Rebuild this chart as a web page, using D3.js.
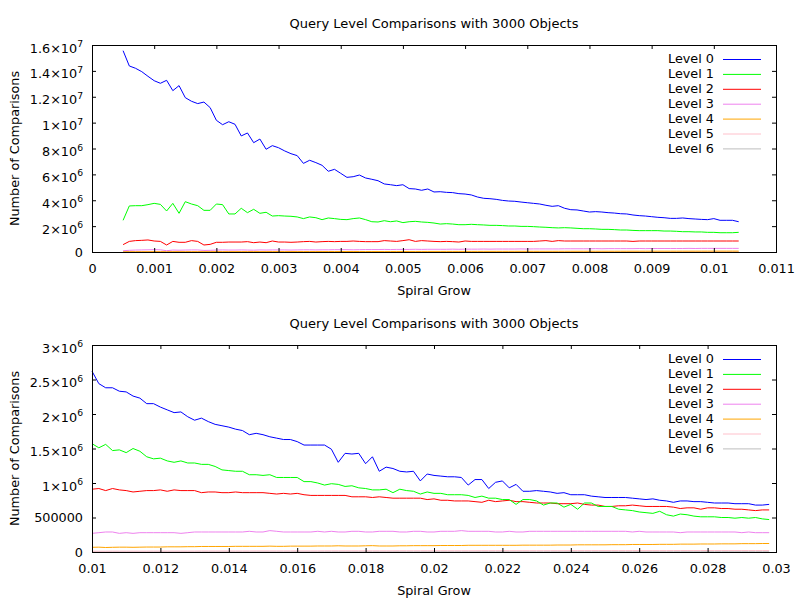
<!DOCTYPE html>
<html>
<head>
<meta charset="utf-8">
<script src="https://cdn.jsdelivr.net/npm/d3@7"></script>
<style>
  body { margin: 0; background: #fff; }
  text { font-family: "DejaVu Sans", sans-serif; font-size: 12.8px; fill: #000; }
</style>
</head>
<body>
<div id="chart"></div>
<script>
// series values are in millions of comparisons
const levelNames = ["Level 0", "Level 1", "Level 2", "Level 3", "Level 4", "Level 5", "Level 6"];
const levelColors = ["#0000ff", "#00ff00", "#ff0000", "#ee82ee", "#ffa500", "#ffc0cb", "#bebebe"];

const chartTitle = "Query Level Comparisons with 3000 Objects";
const xTitle = "Spiral Grow";
const yTitle = "Number of Comparisons";

// ---- top panel ----
const topX = [0.0005,0.0006,0.0007,0.0008,0.0009,
  0.0010,0.0011,0.0012,0.0013,0.0014,0.0015,0.0016,0.0017,0.0018,0.0019,
  0.0020,0.0021,0.0022,0.0023,0.0024,0.0025,0.0026,0.0027,0.0028,0.0029,
  0.0030,0.0031,0.0032,0.0033,0.0034,0.0035,0.0036,0.0037,0.0038,0.0039,
  0.0040,0.0041,0.0042,0.0043,0.0044,0.0045,0.0046,0.0047,0.0048,0.0049,
  0.0050,0.0051,0.0052,0.0053,0.0054,0.0055,0.0056,0.0057,0.0058,0.0059,
  0.0060,0.0061,0.0062,0.0063,0.0064,0.0065,0.0066,0.0067,0.0068,0.0069,
  0.0070,0.0071,0.0072,0.0073,0.0074,0.0075,0.0076,0.0077,0.0078,0.0079,
  0.0080,0.0081,0.0082,0.0083,0.0084,0.0085,0.0086,0.0087,0.0088,0.0089,
  0.0090,0.0091,0.0092,0.0093,0.0094,0.0095,0.0096,0.0097,0.0098,0.0099,
  0.0100,0.0101,0.0102,0.0103,0.0104];

const topL0 = [15.56,14.38,14.20,13.94,13.58,13.24,13.04,13.27,12.47,12.86,
  11.93,11.65,11.47,11.59,11.16,10.18,9.84,10.07,9.87,8.97,
  9.20,8.45,8.73,7.94,8.22,8.06,7.81,7.60,7.45,6.85,
  7.09,6.91,6.70,6.24,6.39,6.08,5.77,5.82,5.95,5.72,
  5.62,5.51,5.26,5.20,5.13,5.20,4.90,4.87,4.77,4.87,
  4.64,4.66,4.61,4.59,4.51,4.48,4.41,4.25,4.15,4.12,
  4.07,3.99,3.94,3.92,3.86,3.81,3.76,3.71,3.61,3.53,
  3.58,3.38,3.27,3.25,3.17,3.09,3.12,3.09,3.04,3.01,
  2.96,2.94,2.86,2.81,2.78,2.73,2.68,2.65,2.60,2.60,
  2.63,2.58,2.55,2.52,2.50,2.58,2.45,2.45,2.45,2.34];
const topL1 = [2.45,3.56,3.58,3.58,3.66,3.76,3.68,3.17,3.76,2.99,
  3.89,3.71,3.58,3.22,3.22,3.71,3.66,2.94,2.94,3.38,
  3.04,3.30,2.99,3.07,2.78,2.81,2.78,2.76,2.71,2.58,
  2.71,2.65,2.50,2.63,2.58,2.52,2.50,2.58,2.63,2.50,
  2.34,2.32,2.42,2.34,2.40,2.27,2.34,2.37,2.32,2.29,
  2.24,2.16,2.19,2.16,2.11,2.11,2.14,2.11,2.09,2.06,
  2.06,2.04,2.01,2.01,1.98,1.98,1.96,1.93,1.91,1.88,
  1.86,1.88,1.86,1.83,1.80,1.80,1.78,1.75,1.75,1.73,
  1.70,1.70,1.67,1.65,1.65,1.65,1.65,1.62,1.62,1.60,
  1.57,1.57,1.55,1.55,1.52,1.52,1.49,1.49,1.49,1.52];
const topL2 = [0.57,0.82,0.88,0.90,0.93,0.85,0.82,0.54,0.82,0.75,
  0.75,0.88,0.82,0.54,0.59,0.75,0.75,0.77,0.77,0.77,
  0.80,0.72,0.77,0.72,0.85,0.77,0.77,0.75,0.77,0.80,
  0.82,0.77,0.80,0.82,0.80,0.82,0.82,0.85,0.82,0.80,
  0.80,0.80,0.88,0.85,0.82,0.88,0.95,0.82,0.88,0.85,
  0.82,0.80,0.82,0.80,0.77,0.85,0.82,0.82,0.82,0.82,
  0.82,0.82,0.82,0.82,0.82,0.82,0.82,0.85,0.88,0.82,
  0.88,0.85,0.85,0.85,0.85,0.85,0.85,0.85,0.85,0.85,
  0.85,0.85,0.82,0.85,0.85,0.85,0.85,0.85,0.85,0.85,
  0.85,0.85,0.85,0.85,0.85,0.85,0.85,0.85,0.85,0.85];
const topL3 = [0.10,0.13,0.15,0.16,0.17,0.18,0.17,0.10,0.15,0.14,
  0.15,0.16,0.16,0.12,0.13,0.15,0.16,0.15,0.15,0.16,
  0.15,0.14,0.16,0.15,0.16,0.16,0.16,0.15,0.16,0.17,
  0.17,0.16,0.17,0.17,0.18,0.18,0.18,0.17,0.18,0.19,
  0.19,0.19,0.20,0.19,0.20,0.20,0.20,0.21,0.20,0.21,
  0.21,0.21,0.21,0.22,0.21,0.22,0.22,0.22,0.23,0.22,
  0.23,0.23,0.23,0.23,0.24,0.23,0.24,0.24,0.24,0.24,
  0.24,0.25,0.25,0.25,0.25,0.25,0.26,0.25,0.26,0.26,
  0.26,0.26,0.26,0.27,0.26,0.27,0.27,0.27,0.27,0.27,
  0.27,0.28,0.27,0.28,0.28,0.28,0.28,0.28,0.28,0.28];
const topL4 = [0.020,0.022,0.022,0.024,0.024,0.025,0.025,0.022,0.025,0.026,
  0.026,0.027,0.027,0.025,0.026,0.028,0.028,0.029,0.029,0.030,
  0.030,0.030,0.031,0.031,0.032,0.032,0.033,0.033,0.034,0.034,
  0.035,0.035,0.036,0.036,0.037,0.037,0.038,0.038,0.039,0.039,
  0.040,0.040,0.041,0.041,0.042,0.042,0.043,0.043,0.044,0.044,
  0.045,0.045,0.046,0.046,0.047,0.047,0.048,0.048,0.049,0.049,
  0.050,0.050,0.051,0.051,0.052,0.052,0.053,0.053,0.054,0.054,
  0.055,0.055,0.056,0.056,0.057,0.057,0.058,0.058,0.059,0.059,
  0.060,0.060,0.061,0.061,0.062,0.062,0.063,0.063,0.064,0.064,
  0.065,0.065,0.066,0.066,0.067,0.067,0.068,0.068,0.069,0.070];
const topL5 = [0.005,0.006,0.006,0.006,0.007,0.007,0.007,0.006,0.007,0.007,
  0.007,0.008,0.008,0.007,0.007,0.008,0.008,0.008,0.008,0.009,
  0.009,0.009,0.009,0.009,0.010,0.010,0.010,0.010,0.010,0.010,
  0.011,0.011,0.011,0.011,0.011,0.011,0.012,0.012,0.012,0.012,
  0.012,0.012,0.013,0.013,0.013,0.013,0.013,0.013,0.014,0.014,
  0.014,0.014,0.014,0.014,0.015,0.015,0.015,0.015,0.015,0.015,
  0.015,0.016,0.016,0.016,0.016,0.016,0.016,0.016,0.017,0.017,
  0.017,0.017,0.017,0.017,0.017,0.018,0.018,0.018,0.018,0.018,
  0.018,0.018,0.018,0.019,0.019,0.019,0.019,0.019,0.019,0.019,
  0.019,0.020,0.020,0.020,0.020,0.020,0.020,0.020,0.020,0.020];
const topL6 = [0.002,0.002,0.002,0.002,0.002,0.002,0.002,0.002,0.002,0.002,
  0.002,0.002,0.002,0.002,0.002,0.002,0.002,0.002,0.002,0.002,
  0.002,0.002,0.002,0.002,0.002,0.002,0.002,0.002,0.003,0.003,
  0.003,0.003,0.003,0.003,0.003,0.003,0.003,0.003,0.003,0.003,
  0.003,0.003,0.003,0.003,0.003,0.003,0.003,0.003,0.003,0.003,
  0.003,0.003,0.003,0.003,0.003,0.003,0.003,0.003,0.003,0.003,
  0.003,0.003,0.003,0.003,0.003,0.003,0.004,0.004,0.004,0.004,
  0.004,0.004,0.004,0.004,0.004,0.004,0.004,0.004,0.004,0.004,
  0.004,0.004,0.004,0.004,0.004,0.004,0.004,0.004,0.004,0.004,
  0.004,0.004,0.004,0.004,0.004,0.004,0.004,0.004,0.004,0.004];

const topXTicks = [0,0.001,0.002,0.003,0.004,0.005,0.006,0.007,0.008,0.009,0.01,0.011];
const topXTickLabels = ["0","0.001","0.002","0.003","0.004","0.005","0.006","0.007","0.008","0.009","0.01","0.011"];
const topYTicks = [0,2e6,4e6,6e6,8e6,1e7,1.2e7,1.4e7,1.6e7];
const topYTickMant = ["0","2","4","6","8","1","1.2","1.4","1.6"];
const topYTickExp = ["","6","6","6","6","7","7","7","7"];

// ---- bottom panel ----
const botX = [0.0100,0.0102,0.0104,0.0106,0.0108,0.0110,0.0112,0.0114,0.0116,0.0118,
  0.0120,0.0122,0.0124,0.0126,0.0128,0.0130,0.0132,0.0134,0.0136,0.0138,
  0.0140,0.0142,0.0144,0.0146,0.0148,0.0150,0.0152,0.0154,0.0156,0.0158,
  0.0160,0.0162,0.0164,0.0166,0.0168,0.0170,0.0172,0.0174,0.0176,0.0178,
  0.0180,0.0182,0.0184,0.0186,0.0188,0.0190,0.0192,0.0194,0.0196,0.0198,
  0.0200,0.0202,0.0204,0.0206,0.0208,0.0210,0.0212,0.0214,0.0216,0.0218,
  0.0220,0.0222,0.0224,0.0226,0.0228,0.0230,0.0232,0.0234,0.0236,0.0238,
  0.0240,0.0242,0.0244,0.0246,0.0248,0.0250,0.0252,0.0254,0.0256,0.0258,
  0.0260,0.0262,0.0264,0.0266,0.0268,0.0270,0.0272,0.0274,0.0276,0.0278,
  0.0280,0.0282,0.0284,0.0286,0.0288,0.0290,0.0292,0.0294,0.0296,0.0298];

const botL0 = [2.62,2.44,2.38,2.38,2.33,2.32,2.26,2.23,2.15,2.15,
  2.10,2.06,2.02,2.03,1.96,1.91,1.94,1.89,1.85,1.83,
  1.81,1.78,1.76,1.70,1.72,1.70,1.67,1.65,1.63,1.63,
  1.60,1.55,1.55,1.55,1.55,1.49,1.30,1.43,1.42,1.43,
  1.28,1.38,1.17,1.23,1.21,1.17,1.16,1.17,1.03,1.13,
  1.11,1.10,1.09,1.09,1.08,0.97,1.05,1.05,0.92,1.01,
  1.03,0.93,0.98,0.88,0.88,0.89,0.88,0.87,0.85,0.86,
  0.83,0.83,0.83,0.81,0.80,0.79,0.79,0.79,0.79,0.78,
  0.77,0.76,0.77,0.75,0.74,0.72,0.74,0.74,0.73,0.73,
  0.72,0.71,0.71,0.71,0.70,0.70,0.70,0.68,0.68,0.69];
const botL1 = [1.57,1.51,1.56,1.47,1.48,1.44,1.50,1.46,1.38,1.35,
  1.36,1.32,1.30,1.32,1.29,1.29,1.27,1.27,1.24,1.19,
  1.18,1.17,1.17,1.12,1.12,1.11,1.12,1.08,1.08,1.08,
  1.08,1.02,1.02,1.00,0.97,0.99,0.98,0.95,0.96,0.93,
  0.92,0.90,0.90,0.91,0.86,0.91,0.89,0.88,0.84,0.87,
  0.85,0.85,0.83,0.83,0.83,0.82,0.79,0.81,0.78,0.78,
  0.76,0.76,0.69,0.76,0.76,0.74,0.68,0.71,0.71,0.65,
  0.69,0.62,0.71,0.71,0.66,0.66,0.66,0.62,0.61,0.60,
  0.58,0.57,0.56,0.59,0.54,0.52,0.55,0.54,0.52,0.51,
  0.51,0.51,0.50,0.50,0.49,0.50,0.49,0.50,0.48,0.47];
const botL2 = [0.91,0.92,0.89,0.92,0.90,0.89,0.87,0.88,0.89,0.89,
  0.90,0.88,0.90,0.89,0.89,0.89,0.86,0.87,0.87,0.86,
  0.86,0.87,0.86,0.86,0.86,0.86,0.85,0.84,0.85,0.84,
  0.85,0.83,0.82,0.82,0.82,0.82,0.82,0.82,0.80,0.80,
  0.80,0.79,0.80,0.79,0.78,0.78,0.78,0.78,0.78,0.76,
  0.77,0.75,0.75,0.74,0.74,0.74,0.73,0.72,0.75,0.73,
  0.74,0.75,0.73,0.73,0.72,0.71,0.71,0.71,0.70,0.70,
  0.70,0.71,0.69,0.68,0.68,0.66,0.66,0.67,0.67,0.68,
  0.67,0.66,0.66,0.66,0.66,0.65,0.63,0.64,0.64,0.62,
  0.64,0.64,0.63,0.63,0.62,0.62,0.61,0.60,0.61,0.61];
const botL3 = [0.27,0.28,0.29,0.29,0.27,0.28,0.27,0.28,0.28,0.28,
  0.28,0.28,0.28,0.27,0.28,0.29,0.29,0.29,0.29,0.29,
  0.29,0.29,0.29,0.30,0.29,0.29,0.31,0.30,0.29,0.29,
  0.29,0.29,0.29,0.30,0.29,0.30,0.29,0.29,0.30,0.30,
  0.29,0.29,0.30,0.30,0.30,0.29,0.29,0.30,0.30,0.29,
  0.29,0.30,0.30,0.30,0.31,0.30,0.30,0.30,0.30,0.29,
  0.29,0.30,0.29,0.29,0.30,0.30,0.30,0.30,0.30,0.30,
  0.30,0.30,0.30,0.30,0.30,0.30,0.30,0.30,0.30,0.29,
  0.30,0.29,0.29,0.29,0.29,0.29,0.28,0.29,0.29,0.29,
  0.29,0.29,0.29,0.29,0.29,0.28,0.29,0.28,0.28,0.28];
const botL4 = [0.068,0.070,0.065,0.068,0.070,0.070,0.068,0.070,0.072,0.072,
  0.072,0.075,0.075,0.075,0.077,0.077,0.080,0.080,0.080,0.080,
  0.080,0.082,0.082,0.082,0.082,0.082,0.085,0.082,0.082,0.085,
  0.085,0.085,0.085,0.087,0.087,0.087,0.090,0.087,0.087,0.087,
  0.090,0.092,0.087,0.087,0.087,0.090,0.090,0.092,0.092,0.092,
  0.092,0.094,0.094,0.094,0.094,0.097,0.097,0.097,0.097,0.097,
  0.097,0.097,0.097,0.099,0.099,0.099,0.099,0.099,0.101,0.101,
  0.101,0.104,0.104,0.104,0.104,0.104,0.106,0.106,0.106,0.109,
  0.109,0.109,0.109,0.111,0.111,0.111,0.114,0.114,0.114,0.116,
  0.116,0.116,0.118,0.118,0.118,0.121,0.121,0.121,0.123,0.123];
const botL5 = [0.012,0.012,0.012,0.013,0.013,0.013,0.013,0.013,0.013,0.014,
  0.014,0.014,0.014,0.014,0.014,0.014,0.015,0.015,0.015,0.015,
  0.015,0.015,0.015,0.015,0.016,0.016,0.016,0.016,0.016,0.016,
  0.016,0.016,0.016,0.016,0.017,0.017,0.017,0.017,0.017,0.017,
  0.017,0.017,0.017,0.017,0.017,0.018,0.018,0.018,0.018,0.018,
  0.018,0.018,0.018,0.018,0.018,0.018,0.018,0.019,0.019,0.019,
  0.019,0.019,0.019,0.019,0.019,0.019,0.019,0.019,0.019,0.019,
  0.020,0.020,0.020,0.020,0.020,0.020,0.020,0.020,0.020,0.020,
  0.020,0.020,0.020,0.020,0.020,0.021,0.021,0.021,0.021,0.021,
  0.021,0.021,0.021,0.021,0.021,0.021,0.021,0.021,0.021,0.021];
const botL6 = [0.004,0.004,0.004,0.004,0.004,0.004,0.004,0.004,0.004,0.004,
  0.004,0.004,0.004,0.004,0.004,0.004,0.004,0.004,0.004,0.004,
  0.004,0.004,0.004,0.004,0.004,0.004,0.004,0.004,0.004,0.004,
  0.005,0.005,0.005,0.005,0.005,0.005,0.005,0.005,0.005,0.005,
  0.005,0.005,0.005,0.005,0.005,0.005,0.005,0.005,0.005,0.005,
  0.005,0.005,0.005,0.005,0.005,0.005,0.005,0.005,0.005,0.005,
  0.005,0.005,0.005,0.005,0.005,0.005,0.005,0.005,0.005,0.005,
  0.005,0.005,0.005,0.005,0.005,0.005,0.005,0.005,0.005,0.005,
  0.005,0.005,0.005,0.005,0.005,0.005,0.005,0.005,0.005,0.005,
  0.005,0.005,0.005,0.005,0.005,0.005,0.005,0.005,0.005,0.005];

const botXTicks = [0.01,0.012,0.014,0.016,0.018,0.02,0.022,0.024,0.026,0.028,0.03];
const botXTickLabels = ["0.01","0.012","0.014","0.016","0.018","0.02","0.022","0.024","0.026","0.028","0.03"];
const botYTicks = [0,5e5,1e6,1.5e6,2e6,2.5e6,3e6];
const botYTickMant = ["0","500000","1","1.5","2","2.5","3"];
const botYTickExp = ["","","6","6","6","6","6"];


var width = 800, height = 600;
const svg = d3.select("#chart")
  .append("svg")
  .attr("width", width)
  .attr("height", height);

const drawPanel = (cfg) => {
  const left = 92, right = 776;
  const top = cfg.top, bottom = cfg.top + 207;
  const tick = 4;

  const x = d3.scaleLinear().domain(cfg.xDomain).range([left, right]);
  const y = d3.scaleLinear().domain(cfg.yDomain).range([bottom, top]);

  const g = svg.append("g");

  // the lines go first so the frame sits above them
  const line = d3.line()
    .x((d, i) => x(cfg.xs[i]))
    .y(d => y(d * 1e6));

  const plot = g.append("g");
  // draw the higher levels first so level 0 ends up on top
  cfg.series.slice().reverse().forEach((s, k) => {
    const idx = cfg.series.length - 1 - k;
    plot.append("path")
      .datum(s)
      .attr("fill", "none")
      .attr("stroke", levelColors[idx])
      .attr("stroke-width", 1)
      .attr("d", line);
  });

  // bottom axis with labels
  const xAxis = d3.axisBottom(x)
    .tickValues(cfg.xTicks)
    .tickFormat((d, i) => cfg.xTickLabels[i])
    .tickSizeInner(-tick).tickSizeOuter(0).tickPadding(12);
  const xg = g.append("g").attr("transform", "translate(0," + bottom + ")").call(xAxis);

  const xTop = d3.axisTop(x).tickValues(cfg.xTicks).tickFormat("")
    .tickSizeInner(-tick).tickSizeOuter(0);
  const xtg = g.append("g").attr("transform", "translate(0," + top + ")").call(xTop);

  const yAxis = d3.axisLeft(y)
    .tickValues(cfg.yTicks)
    .tickFormat((d, i) => cfg.yMant[i])
    .tickSizeInner(-tick).tickSizeOuter(0).tickPadding(9);
  const yg = g.append("g").attr("transform", "translate(" + left + ",0)").call(yAxis);

  const yRight = d3.axisRight(y).tickValues(cfg.yTicks).tickFormat("")
    .tickSizeInner(-tick).tickSizeOuter(0);
  const yrg = g.append("g").attr("transform", "translate(" + right + ",0)").call(yRight);

  [xg, xtg, yg, yrg].forEach(a => {
    a.attr("font-family", null).attr("font-size", null);
    a.select(".domain").remove();
    a.selectAll(".tick line").attr("stroke", "#000");
    a.selectAll(".tick text").attr("fill", "#000");
  });

  // y labels: mantissa x 10 with a raised exponent
  yg.selectAll(".tick text").each(function (d, i) {
    const t = d3.select(this);
    const exp = cfg.yExp[i];
    if (exp === "") return;
    t.text(null).attr("y", 3);
    t.append("tspan").text(cfg.yMant[i] + "\u00d710");
    t.append("tspan").attr("dy", -5.5).style("font-size", "9.2px").text(exp);
  });

  g.append("rect")
    .attr("x", left + 0.5).attr("y", top + 0.5)
    .attr("width", right - left).attr("height", bottom - top)
    .attr("fill", "none").attr("stroke", "#000").attr("stroke-width", 1);

  g.append("text")
    .attr("x", (left + right) / 2).attr("y", top - 17)
    .attr("text-anchor", "middle")
    .style("font-size", "13px")
    .text(chartTitle);

  g.append("text")
    .attr("x", (left + right) / 2).attr("y", bottom + 43)
    .attr("text-anchor", "middle")
    .text(xTitle);

  g.append("text")
    .attr("transform", "translate(19," + ((top + bottom) / 2) + ") rotate(-90)")
    .attr("text-anchor", "middle")
    .text(yTitle);

  // key in the top right corner
  const key = g.append("g");
  levelNames.forEach((name, i) => {
    const ky = top + 14 + i * 14.9;
    key.append("text")
      .attr("x", 714).attr("y", ky)
      .attr("dy", "0.35em")
      .attr("text-anchor", "end")
      .text(name);
    key.append("line")
      .attr("x1", 723).attr("x2", 761)
      .attr("y1", ky + 0.5).attr("y2", ky + 0.5)
      .attr("stroke", levelColors[i]).attr("stroke-width", 1);
  });
};

drawPanel({
  top: 45,
  xs: topX,
  series: [topL0, topL1, topL2, topL3, topL4, topL5, topL6],
  xDomain: [0, 0.011], yDomain: [0, 1.6e7],
  xTicks: topXTicks, xTickLabels: topXTickLabels,
  yTicks: topYTicks, yMant: topYTickMant, yExp: topYTickExp
});

drawPanel({
  top: 345,
  xs: botX,
  series: [botL0, botL1, botL2, botL3, botL4, botL5, botL6],
  xDomain: [0.01, 0.03], yDomain: [0, 3e6],
  xTicks: botXTicks, xTickLabels: botXTickLabels,
  yTicks: botYTicks, yMant: botYTickMant, yExp: botYTickExp
});
</script>
</body>
</html>
